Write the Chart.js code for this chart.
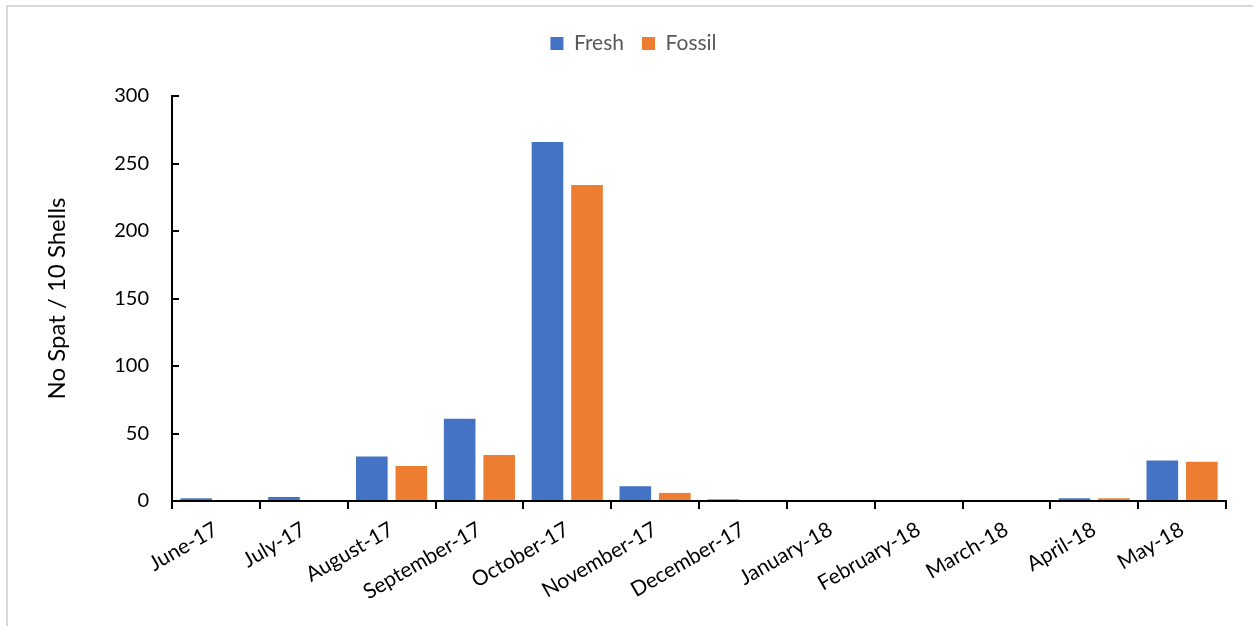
<!DOCTYPE html>
<html><head><meta charset="utf-8">
<script src="https://cdn.jsdelivr.net/npm/chart.js@4/dist/chart.umd.min.js"></script>
<style>
html,body{margin:0;padding:0;background:#fff;overflow:hidden;}
#frame{position:absolute;left:6px;top:5px;width:1300px;height:700px;border-left:2px solid #d9d9d9;border-top:2px solid #d9d9d9;}
canvas{position:absolute;left:0;top:0;}
</style></head>
<body>
<div id="frame"></div>
<canvas id="c" width="1253" height="626"></canvas>
<script>
const categories = ["June-17","July-17","August-17","September-17","October-17","November-17","December-17","January-18","February-18","March-18","April-18","May-18"];
const freshValues = [2, 3, 33, 61, 266, 11, 1.2, 0, 0, 0, 2, 30];
const fossilValues = [0.8, 0.8, 26, 34, 234, 6, 0, 0, 0, 0, 2, 29];
const yTicks = [0, 50, 100, 150, 200, 250, 300];
const FONT = "Lato, 'Open Sans', sans-serif";

const legendSpacer = {
  id: 'legendSpacer',
  beforeInit(chart) {
    const leg = chart.legend;
    if (!leg) return;
    const fit = leg.fit;
    leg.fit = function () { fit.call(this); this.height += 32; };
  }
};

new Chart(document.getElementById('c'), {
  type: 'bar',
  data: {
    labels: categories,
    datasets: [
      {label: 'Fresh', data: freshValues, backgroundColor: '#4472C4', categoryPercentage: 0.9, barPercentage: 0.8},
      {label: 'Fossil', data: fossilValues, backgroundColor: '#ED7D31', categoryPercentage: 0.9, barPercentage: 0.8}
    ]
  },
  plugins: [legendSpacer],
  options: {
    responsive: false,
    animation: false,
    layout: {padding: {left: 41, right: 27, top: 15, bottom: 0}},
    plugins: {
      legend: {
        position: 'top',
        labels: {font: {family: FONT, size: 21}, color: '#595959', boxWidth: 13, boxHeight: 13, padding: 18}
      },
      tooltip: {enabled: false}
    },
    scales: {
      x: {
        afterFit(scale) { scale.height = 125; },
        grid: {display: true, drawOnChartArea: false, drawTicks: true, tickLength: 8, color: '#000', lineWidth: 2, offset: true},
        border: {display: true, color: '#000', width: 2},
        ticks: {font: {family: FONT, size: 21}, color: '#000', maxRotation: 30, minRotation: 30, padding: 8}
      },
      y: {
        min: 0, max: 300,
        afterFit(scale) { scale.width = 131; },
        afterBuildTicks: (ax) => { ax.ticks = yTicks.map(v => ({value: v})); },
        grid: {display: true, drawOnChartArea: false, drawTicks: true, tickLength: -7, color: '#000', lineWidth: 2},
        border: {display: true, color: '#000', width: 2},
        ticks: {font: {family: FONT, size: 20}, color: '#000', padding: 30},
        title: {display: true, text: 'No Spat / 10 Shells', font: {family: FONT, size: 24}, color: '#000', padding: {top: 2, bottom: 0}}
      }
    }
  }
});
</script>
</body></html>
